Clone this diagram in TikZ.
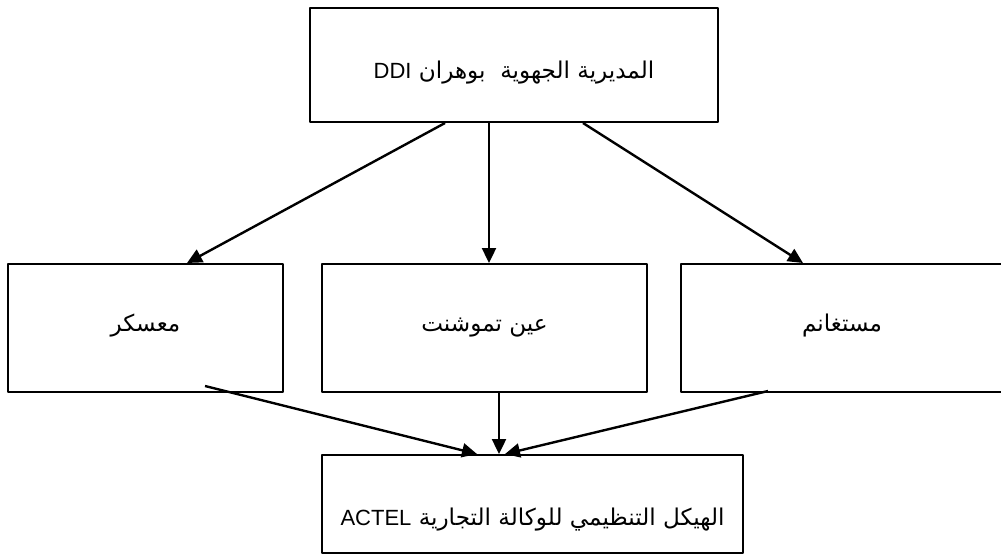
\documentclass[tikz,border=0pt]{standalone}
\usepackage{fontspec}
\setmainfont{Liberation Sans}
\newfontfamily\arabicfont[Script=Arabic,Scale=1.05]{DejaVu Sans}
\TeXXeTstate=1
\usetikzlibrary{arrows.meta}
% text set with its baseline #1 below the box centre
\newcommand{\boxtext}[2]{\raisebox{-#1}[0pt][0pt]{#2}}
\begin{document}
\begin{tikzpicture}[x=1pt, y=-1pt, line join=round, >={Triangle[length=15pt,width=14pt]},
  font=\fontsize{22}{26}\selectfont,
  unit/.style={draw, line width=2pt, inner sep=0pt},
  link/.style={->, line width=2.4pt}]
\useasboundingbox (0,0) rectangle (1001,557);
% boxes
\node[unit, minimum width=408pt, minimum height=114pt] (ddi) at (514,65)
  {\boxtext{13pt}{\arabicfont\beginR المديرية الجهوية\ \ بوهران \beginL{\rmfamily DDI}\endL\endR}};
\node[unit, minimum width=275pt, minimum height=128pt] (mask) at (145.5,328)
  {\boxtext{3pt}{\arabicfont\beginR معسكر\endR}};
\node[unit, minimum width=325pt, minimum height=128pt] (ain) at (484.5,328)
  {\boxtext{3pt}{\arabicfont\beginR عين تموشنت\endR}};
\node[unit, minimum width=322pt, minimum height=128pt] (most) at (842,328)
  {\boxtext{3pt}{\arabicfont\beginR مستغانم\endR}};
\node[unit, minimum width=421pt, minimum height=98pt] (actel) at (532.5,504)
  {\boxtext{21pt}{\arabicfont\beginR الهيكل التنظيمي للوكالة التجارية \beginL{\rmfamily ACTEL}\endL\endR}};
% arrows
\draw[link] ([xshift=-69pt]ddi.south) -- ([xshift=41.5pt]mask.north);
\draw[link] ([xshift=-25pt]ddi.south) -- ([xshift=4.5pt]ain.north);
\draw[link] ([xshift=69pt]ddi.south) -- ([xshift=-39pt]most.north);
\draw[link] ([xshift=59.5pt,yshift=7pt]mask.south) -- ([xshift=-55.5pt]actel.north);
\draw[link] ([xshift=14.5pt]ain.south) -- ([xshift=-33.5pt]actel.north);
\draw[link] ([xshift=-74pt,yshift=2pt]most.south) -- ([xshift=-27.5pt]actel.north);
\end{tikzpicture}
\end{document}
